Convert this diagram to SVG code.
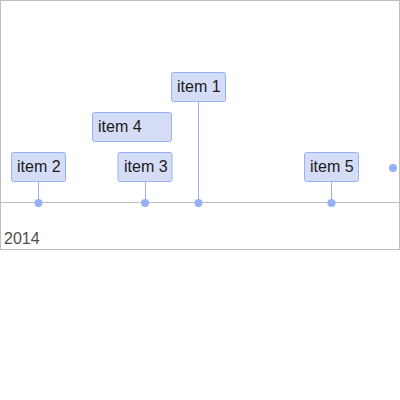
<svg xmlns="http://www.w3.org/2000/svg" width="400" height="400" viewBox="0 0 400 400">
<style>
.box{fill:#D5DDF6;stroke:#97B0F8;stroke-width:1}
.lbl{font-family:"Liberation Sans",Arial,sans-serif;font-size:16px;fill:#1a1a1a}
.ln{stroke:#97B0F8;stroke-width:1}
.dot{fill:#97B0F8}
</style>
<rect x="0.5" y="0.5" width="399" height="249" fill="#fff" stroke="#bfbfbf"/>
<line x1="0" y1="202.5" x2="400" y2="202.5" stroke="#bfbfbf"/>
<text x="4" y="244" font-family="Liberation Sans, Arial, sans-serif" font-size="16" fill="#4d4d4d">2014</text>
<g id="connectors">
<line class="ln" x1="198.5" y1="101.5" x2="198.5" y2="203"/>
<line class="ln" x1="38.5" y1="181.5" x2="38.5" y2="203"/>
<line class="ln" x1="145.5" y1="181.5" x2="145.5" y2="203"/>
<line class="ln" x1="331.5" y1="181.5" x2="331.5" y2="203"/>
</g>
<g id="item1">
<rect class="box" x="171.5" y="72.5" width="54" height="29" rx="2"/>
<text class="lbl" x="177" y="92">item 1</text>
<circle class="dot" cx="198.5" cy="203" r="4"/>
</g>
<g id="item4">
<rect class="box" x="92.5" y="112.5" width="79" height="29" rx="2"/>
<text class="lbl" x="98" y="132">item 4</text>
</g>
<g id="item2">
<rect class="box" x="11.5" y="152.5" width="54" height="29" rx="2"/>
<text class="lbl" x="17" y="172">item 2</text>
<circle class="dot" cx="38.5" cy="203" r="4"/>
</g>
<g id="item3">
<rect class="box" x="118" y="152.5" width="54" height="29" rx="2"/>
<text class="lbl" x="124" y="172">item 3</text>
<circle class="dot" cx="145" cy="203" r="4"/>
</g>
<g id="item5">
<rect class="box" x="304.5" y="152.5" width="54" height="29" rx="2"/>
<text class="lbl" x="310" y="172">item 5</text>
<circle class="dot" cx="331.5" cy="203" r="4"/>
</g>
<g id="item6">
<circle class="dot" cx="393" cy="168" r="4"/>
</g>
</svg>
